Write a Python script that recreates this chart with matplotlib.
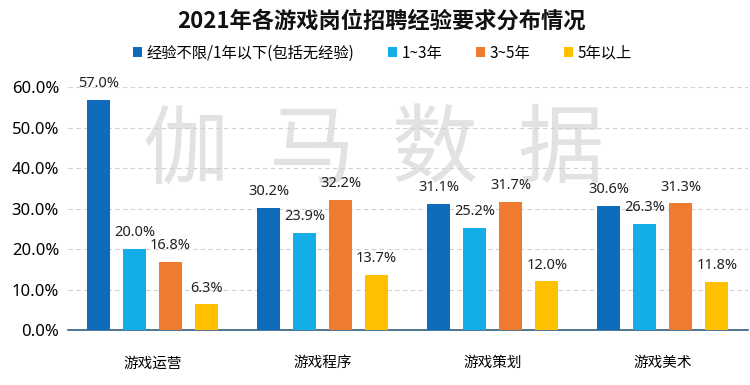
import numpy as np
import matplotlib.pyplot as plt
from matplotlib.ticker import FuncFormatter

plt.rcParams['font.family'] = ['Noto Sans CJK SC', 'DejaVu Sans']

categories = ['游戏运营', '游戏程序', '游戏策划', '游戏美术']
series_names = ['经验不限/1年以下(包括无经验)', '1~3年', '3~5年', '5年以上']
under_1 = [57.0, 30.2, 31.1, 30.6]
y1_3 = [20.0, 23.9, 25.2, 26.3]
y3_5 = [16.8, 32.2, 31.7, 31.3]
over_5 = [6.3, 13.7, 12.0, 11.8]
yticks = [0, 10, 20, 30, 40, 50, 60]

colors = ['#0F6CBD', '#13AEE8', '#EE7B2E', '#FFC000']

fig = plt.figure(figsize=(7.5, 3.85), dpi=100)
ax = fig.add_axes([0.09, 0.143, 0.907, 0.63])

# faint watermark behind the bars and labels
for ch, xc in zip('伽马数据', [0.247, 0.415, 0.58, 0.747]):
    ax.text(xc, 0.605, ch, transform=fig.transFigure, fontsize=62,
            color='#E2E2E2', ha='center', va='center', fontweight='light',
            zorder=1, clip_on=False)

x = np.arange(len(categories))
width = 0.135
step = 0.212
all_series = [under_1, y1_3, y3_5, over_5]
for i, (vals, name, c) in enumerate(zip(all_series, series_names, colors)):
    pos = x + (i - 1.5) * step
    bars = ax.bar(pos, vals, width, color=c, label=name, zorder=3)
    for b, v in zip(bars, vals):
        ax.text(b.get_x() + b.get_width() / 2, v + 2.2, f'{v:.1f}%',
                ha='center', va='bottom', fontsize=10.5, color='#222222',
                family=['Noto Sans', 'DejaVu Sans'], zorder=4)

ax.set_xlim(-0.5, 3.5)
ax.set_ylim(0, 60)
ax.set_yticks(yticks)
ax.yaxis.set_major_formatter(FuncFormatter(lambda v, p: f'{v:.1f}%'))
ax.set_xticks(x)
ax.set_xticklabels(categories, fontsize=10.5)
ax.tick_params(axis='y', length=0, labelsize=12, pad=6)
ax.tick_params(axis='x', length=0, pad=19)
for lbl in ax.get_yticklabels():
    lbl.set_family(['Noto Sans', 'DejaVu Sans'])
ax.grid(axis='y', linestyle=(0, (4, 3)), color='#D0D0D0', linewidth=0.8, zorder=0)
for s in ['top', 'right', 'left']:
    ax.spines[s].set_visible(False)
ax.spines['bottom'].set_color('#2F5F7F')
ax.spines['bottom'].set_linewidth(1.2)

fig.text(0.508, 0.945, '2021年各游戏岗位招聘经验要求分布情况', ha='center',
         va='center', fontsize=16, fontweight='bold', color='#111111')
fig.legend(loc='center', bbox_to_anchor=(0.51, 0.862), ncol=4, frameon=False,
           fontsize=11, handlelength=0.6, handleheight=0.6, handletextpad=0.3,
           columnspacing=2.2)

fig.savefig('out.png', dpi=100)
